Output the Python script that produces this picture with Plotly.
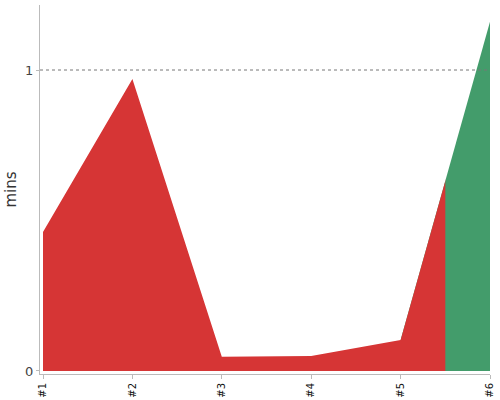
import plotly.graph_objects as go

categories = ["#1", "#2", "#3", "#4", "#5", "#6"]
values = [0.462, 0.970, 0.047, 0.050, 0.103, 1.16]
y_ticks = [0, 1]
positions = list(range(len(categories)))

split = 4.5  # colour change half-way between #5 and #6
x0 = -0.0336
xmax = len(categories) - 1
dsplit = (split - x0) / (xmax - x0)

fig = go.Figure()
fig.add_trace(go.Scatter(
    x=positions[4:], y=values[4:], mode="lines", fill="tozeroy",
    line=dict(width=0, color="#439c6b"), fillcolor="#439c6b",
    xaxis="x", yaxis="y", hoverinfo="skip", showlegend=False))
fig.add_trace(go.Scatter(
    x=positions, y=values, mode="lines", fill="tozeroy",
    line=dict(width=0, color="#d63535"), fillcolor="#d63535",
    xaxis="x2", yaxis="y", hoverinfo="skip", showlegend=False))

fig.add_shape(type="line", xref="paper", x0=0, x1=1, yref="y", y0=y_ticks[1], y1=y_ticks[1],
              line=dict(color="#777", width=1, dash="dot"), layer="above")

fig.update_layout(
    width=500, height=400,
    margin=dict(l=40, r=10, t=5, b=26),
    paper_bgcolor="white", plot_bgcolor="rgba(0,0,0,0)",
    font=dict(family="DejaVu Sans", color="#444"),
    xaxis=dict(
        domain=[0, 1], range=[x0, xmax], tickvals=positions, ticktext=categories,
        tickangle=-90, tickfont=dict(size=10, color="#111"),
        showline=True, linecolor="#bbb", linewidth=1,
        ticks="outside", ticklen=4, tickcolor="#bbb",
        showgrid=False, zeroline=False, anchor="y", automargin=False),
    xaxis2=dict(
        domain=[0, dsplit], range=[x0, split], visible=False,
        showgrid=False, zeroline=False, anchor="y", automargin=False),
    yaxis=dict(
        range=[-0.01, 1.216], tickvals=y_ticks, ticktext=[str(t) for t in y_ticks],
        tickfont=dict(size=13, color="#444"),
        showline=True, linecolor="#bbb", linewidth=1,
        ticks="outside", ticklen=3, tickcolor="#bbb",
        showgrid=False, zeroline=False, anchor="x", automargin=False,
        title=dict(text="mins", font=dict(size=15, color="#333"), standoff=4)),
)

fig.write_html("out.html", config={"displayModeBar": False},
               post_script="document.body.style.margin='0';")
